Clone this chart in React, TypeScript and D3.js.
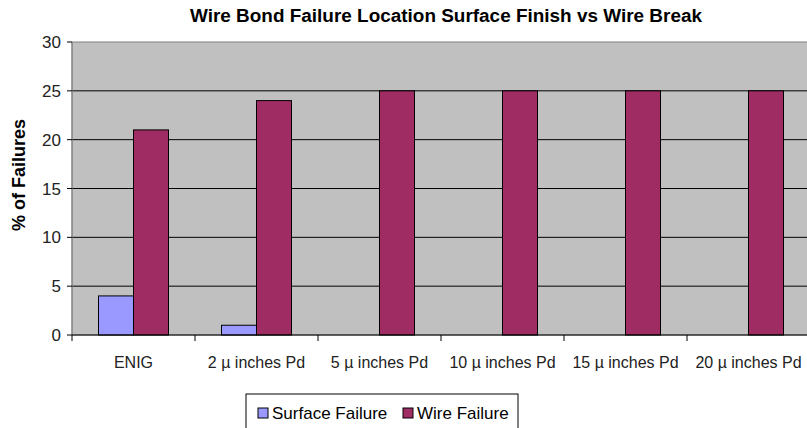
import React from 'react';
import * as d3 from 'd3';

const categories = ['ENIG', '2 µ inches Pd', '5 µ inches Pd', '10 µ inches Pd', '15 µ inches Pd', '20 µ inches Pd'];
const seriesNames = ['Surface Failure', 'Wire Failure'];
const surfaceFailure = [4, 1, 0, 0, 0, 0];
const wireFailure = [21, 24, 25, 25, 25, 25];
const yTicks = [0, 5, 10, 15, 20, 25, 30];

const colors = ['#9999FF', '#A02C64'];
const font = 'Arial, "Liberation Sans", sans-serif';

const App = () => {
  const width = 807;
  const height = 428;
  const left = 72;
  const right = 810;
  const top = 42;
  const bottom = 335;

  const x = d3.scaleBand<string>().domain(categories).range([left, right]);
  const groupWidth = 70;
  const inner = d3
    .scaleBand<string>()
    .domain(seriesNames)
    .range([(x.bandwidth() - groupWidth) / 2, (x.bandwidth() + groupWidth) / 2]);
  const y = d3.scaleLinear().domain([0, 30]).range([bottom, top]);

  const series = [surfaceFailure, wireFailure];

  return (
    <div>
      <style>{`body { margin: 0; }`}</style>
      <svg width={width} height={height} style={{ display: 'block', fontFamily: font }}>
        <rect x={0} y={0} width={width} height={height} fill="#fff" />
        <text x={446} y={22} textAnchor="middle" fontSize={18} fontWeight="bold" fill="#000"
          textLength={512} lengthAdjust="spacingAndGlyphs">
          Wire Bond Failure Location Surface Finish vs Wire Break
        </text>

        {/* plot area */}
        <rect x={left} y={top} width={right - left} height={bottom - top} fill="#C0C0C0" stroke="#808080" />

        {/* gridlines */}
        {yTicks.slice(1, -1).map((t) => (
          <line key={t} x1={left} x2={right} y1={y(t)} y2={y(t)} stroke="#000" strokeWidth={1} />
        ))}

        {/* bars */}
        {series.map((vals, si) =>
          vals.map((v, i) =>
            v > 0 ? (
              <rect
                key={`${si}-${i}`}
                x={(x(categories[i]) ?? 0) + (inner(seriesNames[si]) ?? 0)}
                y={y(v)}
                width={inner.bandwidth()}
                height={y(0) - y(v)}
                fill={colors[si]}
                stroke="#000"
                strokeWidth={1}
              />
            ) : null
          )
        )}

        {/* axes */}
        <line x1={left} x2={left} y1={top} y2={bottom} stroke="#808080" />
        <line x1={left} x2={right} y1={bottom} y2={bottom} stroke="#000" />
        {yTicks.map((t) => (
          <g key={t}>
            <line x1={left - 5} x2={left} y1={y(t)} y2={y(t)} stroke="#000" />
            <text x={61} y={y(t) + 6} textAnchor="end" fontSize={17} fill="#222">
              {t}
            </text>
          </g>
        ))}
        {categories.map((c) => (
          <g key={c}>
            <line x1={x(c) ?? 0} x2={x(c) ?? 0} y1={bottom} y2={bottom + 6} stroke="#000" />
            <text
              x={(x(c) ?? 0) + x.bandwidth() / 2}
              y={368}
              textAnchor="middle"
              fontSize={16}
              fill="#222"
            >
              {c}
            </text>
          </g>
        ))}

        <text
          transform={`translate(25,175) rotate(-90)`}
          textAnchor="middle"
          fontSize={18}
          fontWeight="bold"
          fill="#000"
        >
          % of Failures
        </text>

        {/* legend */}
        <rect x={246} y={394} width={272} height={40} fill="#fff" stroke="#000" />
        {seriesNames.map((s, i) => {
          const lx = i === 0 ? 258 : 403;
          return (
            <g key={s}>
              <rect x={lx} y={408} width={10} height={10} fill={colors[i]} stroke="#000" />
              <text x={lx + 14} y={419} fontSize={17} fill="#000">
                {s}
              </text>
            </g>
          );
        })}
      </svg>
    </div>
  );
};

export default App;
